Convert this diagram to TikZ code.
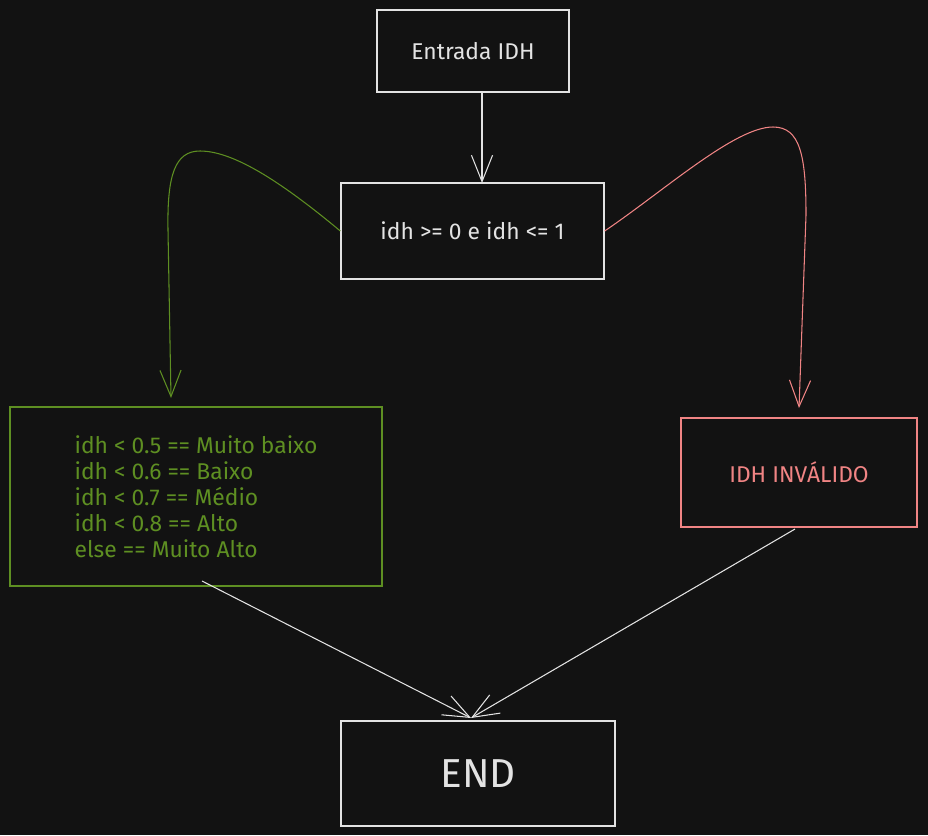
\documentclass[tikz,border=0pt]{standalone}
\usepackage{fontspec}
\setmainfont{Fira Sans}
\usetikzlibrary{arrows.meta, positioning}
\definecolor{idhbg}{HTML}{121212}
\definecolor{idhwhite}{HTML}{E3E3E3}
\definecolor{idhgreen}{HTML}{5E8F22}
\definecolor{idhred}{HTML}{F08484}

\begin{document}
\begin{tikzpicture}[
  x=0.02cm, y=-0.02cm,
  every node/.style={font=\fontsize{13}{14.8}\selectfont},
  stage/.style={rectangle, draw, line width=0.8pt, align=center, inner sep=0pt},
  flow/.style={line width=0.6pt, -{Straight Barb[length=15pt, width=12pt, line width=0.6pt]}},
]
\fill[idhbg] (0,0) rectangle (928,835);
\useasboundingbox (0,0) rectangle (928,835);

\node[stage, draw=idhwhite, text=idhwhite, minimum width=3.84cm, minimum height=1.64cm] (entrada) at (473,51) {Entrada IDH};
\node[stage, draw=idhwhite, text=idhwhite, minimum width=5.26cm, minimum height=1.92cm] (cond) at (472.5,231) {idh >= 0 e idh <= 1};
\node[stage, draw=idhgreen, text=idhgreen, minimum width=7.44cm, minimum height=3.58cm, align=left] (faixas) at (196,496.5)
  {idh < 0.5 == Muito baixo\\idh < 0.6 == Baixo\\idh < 0.7 == Médio\\idh < 0.8 == Alto\\else == Muito Alto};
\node[stage, draw=idhred, text=idhred, minimum width=4.72cm, minimum height=2.18cm] (invalido) at (799,472.5) {IDH INVÁLIDO};
\node[stage, draw=idhwhite, text=idhwhite, minimum width=5.48cm, minimum height=2.10cm, font=\fontsize{23}{26}\selectfont] (fim) at (478,773.5) {END};

\coordinate (cin) at (482,183);
\draw[flow, idhwhite] (entrada.south -| cin) -- (cin);

% ramo valido / invalido
\coordinate (vtip) at (171,398);
\coordinate (itip) at (799,408);
\draw[flow, idhgreen] (cond.west) .. controls (285,185) and (235,151) .. (200,151)
  .. controls (175,151) and (167,175) .. (168,230) -- (vtip);
\draw[flow, idhred] (cond.east) .. controls (665,190) and (735,127) .. (773,127)
  .. controls (800,127) and (806,155) .. (806,215) -- (itip);

\coordinate (fimtop) at (471,718);
\draw[flow, idhwhite] (202,581) -- (fimtop);
\draw[flow, idhwhite] (795,529) -- (fimtop);
\end{tikzpicture}
\end{document}
